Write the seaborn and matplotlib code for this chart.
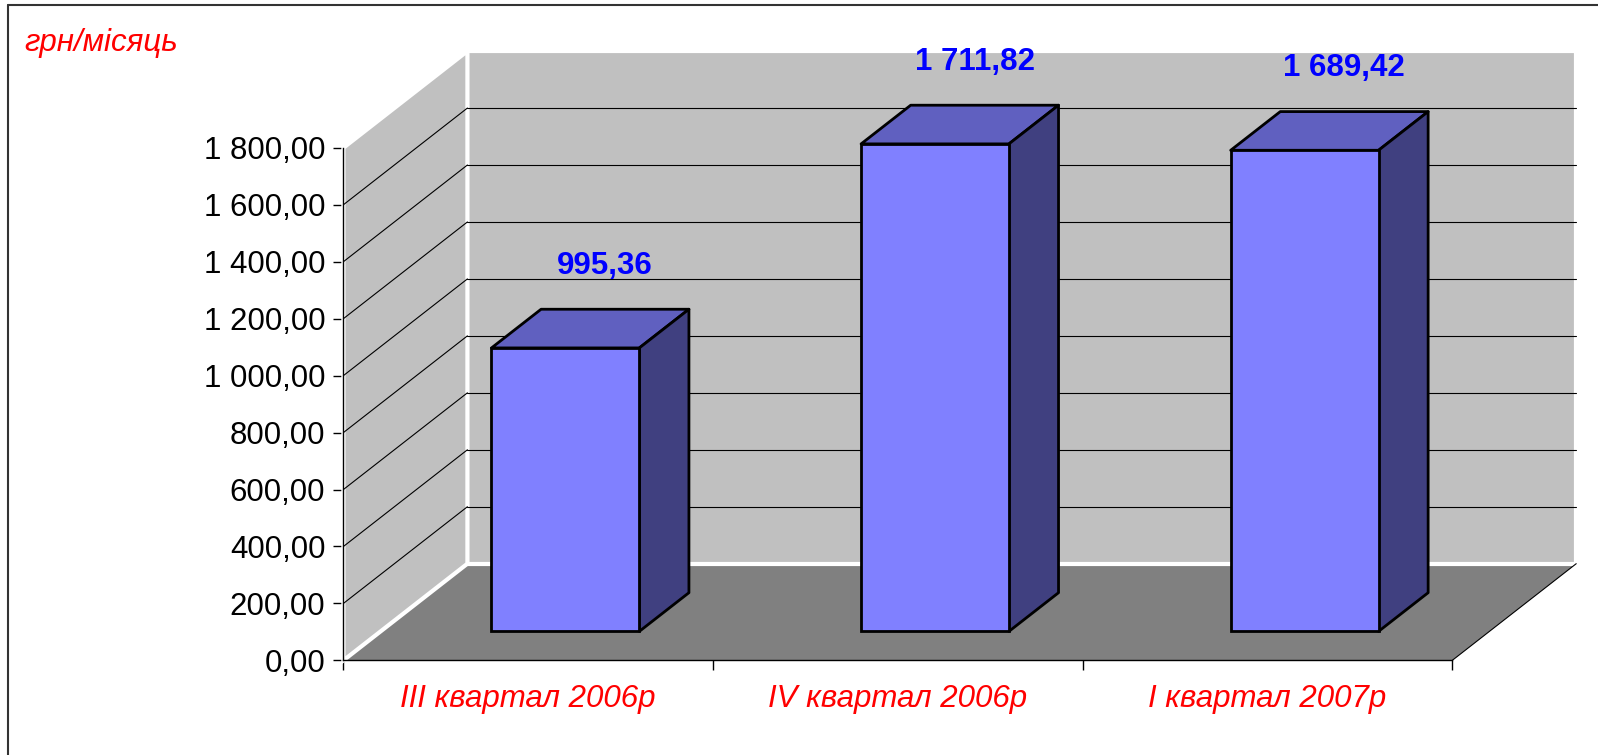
import numpy as np
import pandas as pd
import matplotlib
matplotlib.use('Agg')
import matplotlib.pyplot as plt
import matplotlib.transforms as mtransforms
from matplotlib.patches import Polygon
from matplotlib.lines import Line2D
from matplotlib.ticker import FuncFormatter
import seaborn as sns

sns.set_style('white')
plt.rcParams['font.family'] = ['Liberation Sans', 'DejaVu Sans']

# ── data ──────────────────────────────────────────────────────────────
quarters = ['III квартал 2006р', 'IV квартал 2006р', 'I квартал 2007р']
salary = [995.36, 1711.82, 1689.42]
y_ticks = np.arange(0, 1801, 200)
unit_label = 'грн/місяць'

# ── look ──────────────────────────────────────────────────────────────
FRONT, TOP, SIDE = '#8080FF', '#6060C0', '#404080'
WALL, FLOOR = '#C0C0C0', '#808080'
FS = 22.5
DX, DY = 0.3355, 339.6      # offset of the back plane (data units)
D0, D1 = 0.3, 0.7           # bar front / back depth
BAR_W = 0.4
YMAX = y_ticks[-1]


def fmt(v, _=None):
    return f'{v:,.2f}'.replace(',', ' ').replace('.', ',')


fig = plt.figure(figsize=(15.98, 7.55), dpi=100)
ax = fig.add_axes([0, 0, 1, 1])
ax.patch.set_alpha(0)


def shift(d):
    return mtransforms.Affine2D().translate(d * DX, d * DY) + ax.transData


# ── bars (front faces) ────────────────────────────────────────────────
df = pd.DataFrame({'quarter': quarters, 'salary': salary})
sns.barplot(data=df, x='quarter', y='salary', color=FRONT, saturation=1,
            width=BAR_W, errorbar=None, edgecolor='black', linewidth=2,
            ax=ax, zorder=5)
bars = list(ax.patches)

# ── walls & floor ─────────────────────────────────────────────────────
x0, x1 = -0.5, len(quarters) - 0.5
floor = Polygon([(x0, 0), (x1, 0), (x1 + DX, DY), (x0 + DX, DY)],
                fc=FLOOR, ec='none', zorder=1)
back = Polygon([(x0 + DX, DY), (x1 + DX, DY), (x1 + DX, YMAX + DY), (x0 + DX, YMAX + DY)],
               fc=WALL, ec='white', lw=3, zorder=1.1)
left = Polygon([(x0, 0), (x0 + DX, DY), (x0 + DX, YMAX + DY), (x0, YMAX)],
               fc=WALL, ec='white', lw=3, zorder=1.2)
for p in (floor, back, left):
    ax.add_patch(p)
ax.plot([x1, x1 + DX], [0, DY], color='black', lw=0.8, zorder=1.3)

for v in y_ticks[1:-1]:
    ax.plot([x0, x0 + DX], [v, v + DY], color='black', lw=0.8, zorder=2)
    ax.plot([x0 + DX, x1 + DX], [v + DY, v + DY], color='black', lw=0.8, zorder=2)

# ── 3-D sides and tops of the bars ────────────────────────────────────
dd = D1 - D0
for p in bars:
    bx, w, h = p.get_x(), p.get_width(), p.get_height()
    p.set_transform(shift(D0))
    top = Polygon([(bx, h), (bx + w, h), (bx + w + dd * DX, h + dd * DY), (bx + dd * DX, h + dd * DY)],
                  fc=TOP, ec='black', lw=2, joinstyle='round', zorder=4,
                  transform=shift(D0))
    side = Polygon([(bx + w, 0), (bx + w + dd * DX, dd * DY), (bx + w + dd * DX, h + dd * DY), (bx + w, h)],
                   fc=SIDE, ec='black', lw=2, joinstyle='round', zorder=4,
                   transform=shift(D0))
    ax.add_patch(top)
    ax.add_patch(side)

for i, v in enumerate(salary):
    ax.annotate(fmt(v), xy=(i + 0.62 * DX, v + 0.5 * DY), xytext=(0, 45),
                textcoords='offset points', ha='center', va='center',
                color='#0000FF', fontsize=FS, fontweight='bold', zorder=6)

# ── axes ──────────────────────────────────────────────────────────────
ax.set_xlim(-1.4291, 2.8944)
ax.set_ylim(-332.2, 2319)
sns.despine(ax=ax)
for s in ('left', 'bottom'):
    ax.spines[s].set_color('black')
    ax.spines[s].set_linewidth(1)
    ax.spines[s].set_zorder(3)
ax.spines['left'].set_position(('data', x0))
ax.spines['left'].set_bounds(0, YMAX)
ax.spines['bottom'].set_position(('data', 0))
ax.spines['bottom'].set_bounds(x0, x1)

ax.set_yticks(y_ticks)
ax.yaxis.set_major_formatter(FuncFormatter(fmt))
ax.tick_params(axis='y', left=True, direction='out', length=7.2, width=1,
               pad=5.8, labelsize=FS, color='black', labelcolor='black')

ax.set_xticks(range(len(quarters)))
ax.set_xticklabels(quarters)
ax.set_xticks(np.arange(x0, x1 + 0.01, 1), minor=True)
ax.tick_params(axis='x', which='minor', bottom=True, direction='out',
               length=7.2, width=1, color='black')
ax.tick_params(axis='x', which='major', bottom=True, length=0, pad=17,
               labelsize=FS, labelcolor='red')
for t in ax.get_xticklabels():
    t.set_style('italic')
ax.set_xlabel('')
ax.set_ylabel('')

fig.text(24 / 1598, 1 - 43 / 755, unit_label, ha='left', va='center',
         color='red', style='italic', fontsize=FS)

# chart-area frame: only its top and left edges are inside the picture
fx, fy = 8 / 1598, 1 - 5 / 755
fig.add_artist(Line2D([fx, 1], [fy, fy], transform=fig.transFigure,
                      color='#333333', lw=1.5))
fig.add_artist(Line2D([fx, fx], [0, fy], transform=fig.transFigure,
                      color='#333333', lw=1.5))

fig.savefig('out.png', dpi=100)
